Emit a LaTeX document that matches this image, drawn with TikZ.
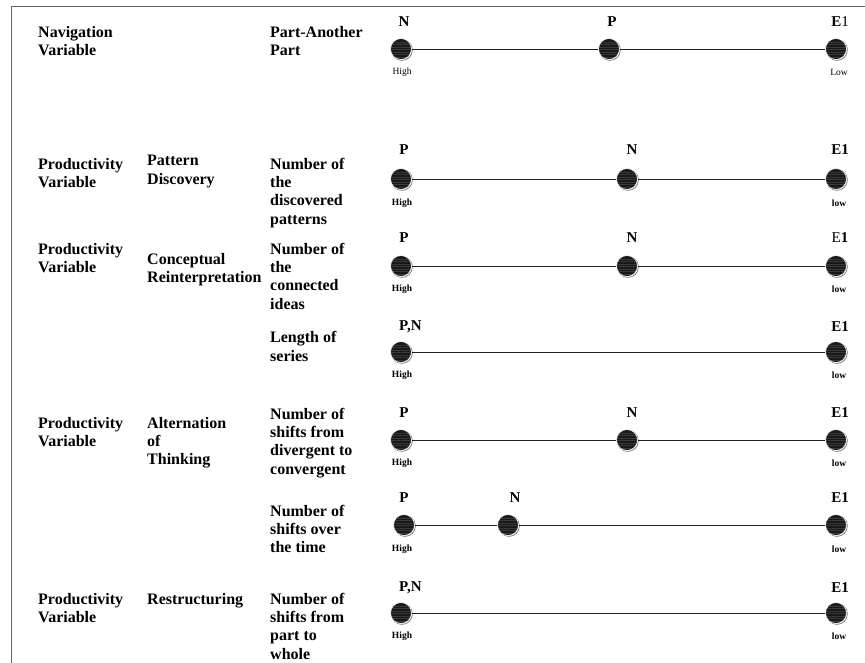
\documentclass[tikz,border=0pt]{standalone}
\usepackage{fontspec}
\setmainfont{Liberation Serif}
\newcommand{\mlt}[1]{\begin{tabular}[t]{@{}l@{}}#1\end{tabular}}
\begin{document}
\begin{tikzpicture}[x=1pt,y=-1pt,
  txt/.style={anchor=base west, inner sep=0pt, font=\fontsize{16}{18.3}\selectfont\bfseries},
  lbl/.style={inner sep=0pt, font=\fontsize{15}{16}\selectfont\bfseries},
  sml/.style={inner sep=0pt, font=\fontsize{9.5}{10}\selectfont\bfseries},
  smlr/.style={inner sep=0pt, font=\fontsize{9.5}{10}\selectfont},
  ball/.style={circle, minimum size=21pt, inner sep=0pt,
    fill={rgb,255:red,25;green,25;blue,25}, draw=white, line width=0.6pt,
    preaction={draw=gray, line width=0.8pt, transform canvas={xshift=0.9pt,yshift=-0.9pt}},
    path picture={\foreach \k in {-8,-5.5,...,8.5}
      \draw[gray!45!black, line width=0.4pt]
        ([yshift=\k pt, xshift=-2pt]path picture bounding box.west) -- ([yshift=\k pt, xshift=2pt]path picture bounding box.east);}},
  conn/.style={draw={rgb,255:red,30;green,30;blue,30}, line width=0.9pt}]
\useasboundingbox (0,0) rectangle (865,663);
\draw[gray!80!black, line width=0.8pt] (11,663) -- (11,6) -- (865,6);

% ---------- texts column 1
\node[txt] (c1a) at (38,37.3) {\mlt{Navigation\\Variable}};
\node[txt] (c1b) at (38,169.3) {\mlt{Productivity\\Variable}};
\node[txt] (c1c) at (38,254.3) {\mlt{Productivity\\Variable}};
\node[txt] (c1d) at (38,428.3) {\mlt{Productivity\\Variable}};
\node[txt] (c1e) at (38,604.3) {\mlt{Productivity\\Variable}};
% ---------- column 2
\node[txt] (c2b) at (147,166) {\mlt{Pattern\\Discovery}};
\node[txt] (c2c) at (147,264.3) {\mlt{Conceptual\\Reinterpretation}};
\node[txt] (c2d) at (147,428) {\mlt{Alternation\\of\\Thinking}};
\node[txt] (c2e) at (147,604.3) {Restructuring};
% ---------- column 3
\node[txt] (c3a) at (270,37.3) {\mlt{Part-Another\\Part}};
\node[txt] (c3b) at (270,169.3) {\mlt{Number of\\the\\discovered\\patterns}};
\node[txt] (c3c) at (270,254.3) {\mlt{Number of\\the\\connected\\ideas}};
\node[txt] (c3d) at (270,342.7) {\mlt{Length of\\series}};
\node[txt] (c3e) at (270,419.3) {\mlt{Number of\\shifts from\\divergent to\\convergent}};
\node[txt] (c3f) at (270,516) {\mlt{Number of\\shifts over\\the time}};
\node[txt] (c3g) at (270,604.3) {\mlt{Number of\\shifts from\\part to\\whole}};

% ---------- row 1
\node[ball] (a1) at (401,49) {};
\node[ball] (a2) at (609,49) {};
\node[ball] (a3) at (836,49) {};
\draw[conn] (a1) -- (a2) -- (a3);
\node[lbl] (la1) at (404,22) {N};
\node[lbl] (la2) at (612,22) {P};
\node[lbl] (la3) at (840,22) {E\mdseries 1};
\node[smlr] (ha1) at (402,72) {High};
\node[smlr] (ha3) at (839,72) {Low};

% ---------- row 2
\node[ball] (b1) at (401,179) {};
\node[ball] (b2) at (627,179) {};
\node[ball] (b3) at (836,179) {};
\draw[conn] (b1) -- (b2) -- (b3);
\node[lbl] (lb1) at (404,150) {P};
\node[lbl] (lb2) at (632,150) {N};
\node[lbl] (lb3) at (840,150) {E1};
\node[sml] (hb1) at (402,203) {High};
\node[sml] (hb3) at (839,203) {low};

% ---------- row 3
\node[ball] (d1) at (401,266) {};
\node[ball] (d2) at (627,266) {};
\node[ball] (d3) at (836,266) {};
\draw[conn] (d1) -- (d2) -- (d3);
\node[lbl] (ld1) at (404,238) {P};
\node[lbl] (ld2) at (632,238) {N};
\node[lbl] (ld3) at (840,238) {{\mdseries E}1};
\node[sml] (hd1) at (402,289) {High};
\node[sml] (hd3) at (839,289) {low};

% ---------- row 4
\node[ball] (e1) at (401,352) {};
\node[ball] (e3) at (836,352) {};
\draw[conn] (e1) -- (e3);
\node[lbl, anchor=west] (le1) at (399,327) {P,N};
\node[lbl] (le3) at (840,327) {E1};
\node[sml] (he1) at (402,375) {High};
\node[sml] (he3) at (839,375) {low};

% ---------- row 5
\node[ball] (f1) at (401,440) {};
\node[ball] (f2) at (627,440) {};
\node[ball] (f3) at (836,440) {};
\draw[conn] (f1) -- (f2) -- (f3);
\node[lbl] (lf1) at (404,413) {P};
\node[lbl] (lf2) at (632,413) {N};
\node[lbl] (lf3) at (840,413) {E1};
\node[sml] (hf1) at (402,463) {High};
\node[sml] (hf3) at (839,463) {low};

% ---------- row 6
\node[ball] (g1) at (404,525) {};
\node[ball] (g2) at (508,525) {};
\node[ball] (g3) at (836,525) {};
\draw[conn] (g1) -- (g2) -- (g3);
\node[lbl] (lg1) at (404,498) {P};
\node[lbl] (lg2) at (515,498) {N};
\node[lbl] (lg3) at (840,498) {E1};
\node[sml] (hg1) at (402,549) {High};
\node[sml] (hg3) at (839,549) {low};

% ---------- row 7
\node[ball] (h1) at (401,613) {};
\node[ball] (h3) at (836,613) {};
\draw[conn] (h1) -- (h3);
\node[lbl, anchor=west] (lh1) at (399,588) {P,N};
\node[lbl] (lh3) at (840,588) {E1};
\node[sml] (hh1) at (402,636) {High};
\node[sml] (hh3) at (839,636) {low};
\end{tikzpicture}
\end{document}
